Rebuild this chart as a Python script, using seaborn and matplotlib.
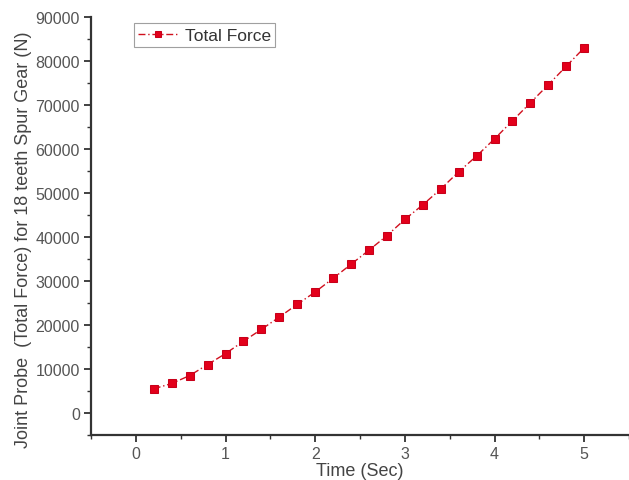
import matplotlib
matplotlib.use("Agg")
import matplotlib.pyplot as plt
from matplotlib.ticker import MultipleLocator
import seaborn as sns
import pandas as pd

time_sec = [0.2, 0.4, 0.6, 0.8, 1.0, 1.2, 1.4, 1.6, 1.8, 2.0, 2.2, 2.4, 2.6,
            2.8, 3.0, 3.2, 3.4, 3.6, 3.8, 4.0, 4.2, 4.4, 4.6, 4.8, 5.0]
total_force = [5500, 6700, 8500, 11000, 13500, 16300, 19000, 21800, 24700,
               27500, 30600, 33800, 37000, 40300, 44000, 47300, 50900, 54800,
               58400, 62300, 66400, 70500, 74600, 78800, 83000]

df = pd.DataFrame({"Time (Sec)": time_sec, "Total Force": total_force})

sns.set_theme(style="ticks")
plt.rcParams['font.family'] = ['Liberation Sans', 'DejaVu Sans']

fig = plt.figure(figsize=(6.29, 4.81), dpi=100)
ax = fig.add_axes([0.1447, 0.0936, 0.8553, 0.869])

red = "#e3001b"
sns.lineplot(data=df, x="Time (Sec)", y="Total Force", ax=ax, color="#d0101e",
             linestyle=(0, (5, 2, 1, 2)), linewidth=1.0, marker="s",
             markersize=5.2, markeredgecolor="#c8001a", markerfacecolor=red,
             label="Total Force")

ax.set_xlim(-0.5, 5.5)
ax.set_ylim(-5000, 90000)
ax.xaxis.set_major_locator(MultipleLocator(1))
ax.xaxis.set_minor_locator(MultipleLocator(0.5))
ax.yaxis.set_major_locator(MultipleLocator(10000))
ax.yaxis.set_minor_locator(MultipleLocator(5000))
ax.set_yticks([0, 10000, 20000, 30000, 40000, 50000, 60000, 70000, 80000, 90000])

for s in ["top", "right"]:
    ax.spines[s].set_visible(False)
for s in ["left", "bottom"]:
    ax.spines[s].set_color("#333333")
    ax.spines[s].set_linewidth(1.6)

ax.tick_params(axis="both", which="major", direction="out", length=5,
               width=1.3, color="#333333", labelsize=11.5, labelcolor="#555555", pad=3)
ax.tick_params(axis="both", which="minor", direction="out", length=3,
               width=1.0, color="#333333")

ax.set_xlabel("Time (Sec)", fontsize=13, color="#444444", labelpad=0.5)
ax.set_ylabel("Joint Probe  (Total Force) for 18 teeth Spur Gear (N)",
              fontsize=13, color="#444444")
ax.yaxis.set_label_coords(-0.11, 0.47)

leg = ax.legend(loc="upper left", bbox_to_anchor=(0.079, 0.985), frameon=True,
                fancybox=False, fontsize=12.5, handlelength=2.3,
                borderpad=0.25, handletextpad=0.4, borderaxespad=0,
                markerscale=0.8)
leg.get_frame().set_edgecolor("#888888")
leg.get_frame().set_linewidth(0.8)
for t in leg.get_texts():
    t.set_color("#333333")

fig.savefig("out.png", dpi=100)
